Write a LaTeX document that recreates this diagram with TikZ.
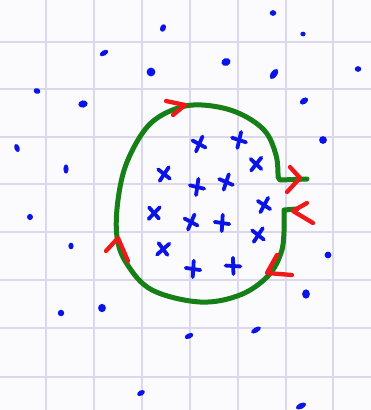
\documentclass[tikz,border=0pt]{standalone}
\begin{document}
\begin{tikzpicture}[x=1pt,y=-1pt,
  gridline/.style={draw=gridc, line width=1.8pt},
  curve/.style={draw=greenc, line width=5pt, line cap=round, line join=round},
  arrowhead/.style={draw=redc, line width=4.3pt, line cap=round, line join=round},
  crossstroke/.style={draw=bluec, line width=3.8pt, line cap=round}]
\definecolor{gridc}{RGB}{220,216,236}
\definecolor{greenc}{RGB}{22,128,22}
\definecolor{redc}{RGB}{240,24,24}
\definecolor{bluec}{RGB}{10,20,230}
\definecolor{paper}{RGB}{251,251,253}
\fill[paper] (0,0) rectangle (371,410);
\useasboundingbox (0,0) rectangle (371,410);
% grid
\foreach \gx in {46,94,142,190,238,286,333}
  \draw[gridline] (\gx,0) -- (\gx,410);
\foreach \gy in {42,89,137,184,232,280,328,377}
  \draw[gridline] (0,\gy) -- (371,\gy);
% dots
\newcommand{\bdot}[5]{\fill[bluec] (#1,#2) ellipse[x radius=1.3*#3pt, y radius=1.3*#4pt, rotate=#5];}
\bdot{273}{13}{2.5}{2.2}{0}
\bdot{163}{28}{2.2}{3}{-20}
\bdot{303}{34}{2}{1.8}{0}
\bdot{104}{53}{3.6}{2}{30}
\bdot{226}{62}{3.6}{3}{20}
\bdot{151}{72}{3.4}{3.4}{0}
\bdot{274}{74}{4.5}{2.4}{55}
\bdot{358}{69}{2.5}{2.2}{0}
\bdot{37}{91}{2.6}{2.2}{-20}
\bdot{83}{104}{3.6}{2.8}{10}
\bdot{304}{101}{3.5}{2.3}{35}
\bdot{17}{148}{2}{3.2}{20}
\bdot{66}{169}{2}{3.6}{0}
\bdot{323}{140}{3}{3}{0}
\bdot{30}{217}{2.3}{2.4}{0}
\bdot{71}{246}{2}{2.6}{0}
\bdot{328}{255}{2.6}{2.6}{0}
\bdot{306}{294}{3}{3.6}{0}
\bdot{61}{313}{2.5}{2.5}{0}
\bdot{102}{308}{3}{3.2}{0}
\bdot{189}{336}{3.6}{2}{25}
\bdot{256}{330}{4.2}{2}{30}
\bdot{141}{393}{3.2}{2}{30}
\bdot{301}{406}{4.2}{2.2}{25}
% crosses
\newcommand{\bcross}[3]{\begin{scope}[shift={(#1,#2)}, rotate=#3]
  \draw[crossstroke] (-6.5,-3.5) -- (6.5,3.5);
  \draw[crossstroke] (3.5,-7.5) -- (-3,7.5);
\end{scope}}
\bcross{199}{144}{0}
\bcross{239}{140}{10}
\bcross{256}{164}{-15}
\bcross{164}{174}{-10}
\bcross{197}{187}{15}
\bcross{226}{182}{5}
\bcross{264}{205}{-5}
\bcross{154}{213}{-20}
\bcross{191}{222}{0}
\bcross{222}{223}{20}
\bcross{258}{235}{-10}
\bcross{163}{249}{-25}
\bcross{193}{269}{20}
\bcross{233}{266}{25}
% green curve
\draw[curve] (297,209) -- (284,210) -- plot[smooth, tension=0.6] coordinates {
  (284,210) (284,232) (281,253) (268,276) (240,295) (200,302) (152,290)
  (127,264) (117,237) (118,200) (127,162) (148,126) (175,109) (202,105)
  (236,112) (264,130) (276,155) (278,177)} -- (280,180) -- (307,179);
% red arrowheads
\draw[arrowhead] (166,101) -- (185,105) -- (173,115);
\draw[arrowhead] (290,167) -- (300,178) -- (287,192);
\draw[arrowhead] (307,203) -- (293,211) -- (313,223);
\draw[arrowhead] (277,255) -- (267,273) -- (292,275);
\draw[arrowhead] (106,251) -- (118,238) -- (128,261);
\end{tikzpicture}
\end{document}
